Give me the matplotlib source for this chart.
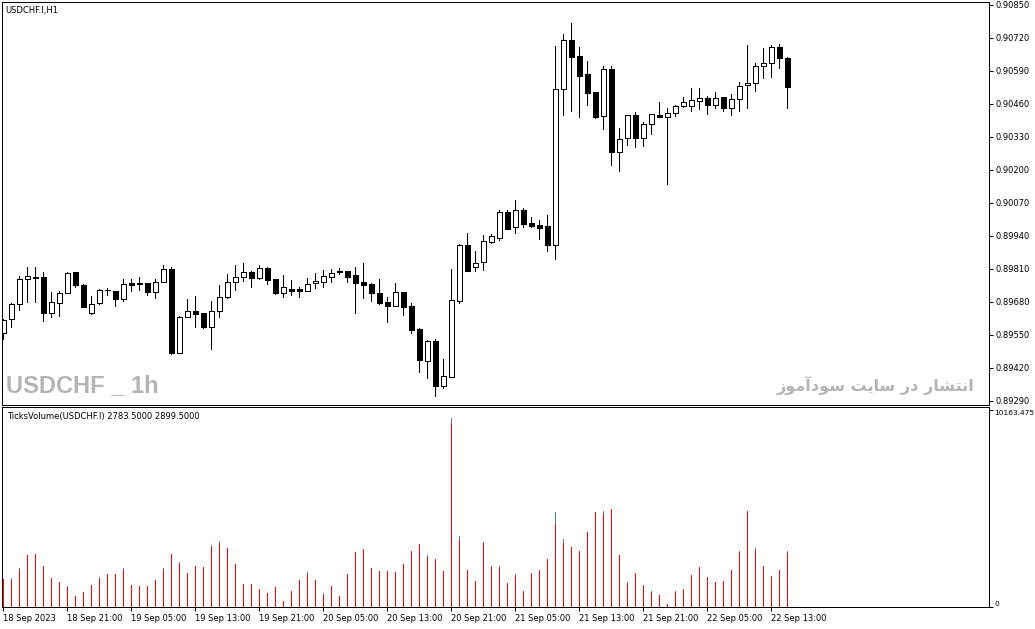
import numpy as np
import matplotlib
matplotlib.use("Agg")
import matplotlib.pyplot as plt
from matplotlib.font_manager import FontProperties, findfont

plt.rcParams['font.family'] = ['DejaVu Sans']

# USDCHF.I H1, 18 Sep 2023 13:00 .. 22 Sep 2023 15:00 (99 bars)
opens = [0.89557, 0.89612, 0.89672, 0.89769, 0.89776, 0.89777, 0.89638, 0.89677, 0.89717, 0.89798,
         0.89748, 0.89636, 0.89675, 0.89726, 0.89723, 0.89693, 0.89754, 0.89756, 0.89754, 0.89721,
         0.89760, 0.89809, 0.89480, 0.89622, 0.89645, 0.89636, 0.89580, 0.89645, 0.89699, 0.89760,
         0.89780, 0.89799, 0.89773, 0.89815, 0.89771, 0.89717, 0.89732, 0.89732, 0.89725, 0.89754,
         0.89760, 0.89780, 0.89801, 0.89802, 0.89786, 0.89759, 0.89751, 0.89714, 0.89680, 0.89665,
         0.89718, 0.89664, 0.89572, 0.89449, 0.89526, 0.89350, 0.89386, 0.89685, 0.89905, 0.89819,
         0.89836, 0.89918, 0.89933, 0.90036, 0.89974, 0.90042, 0.89992, 0.89983, 0.89979, 0.89903,
         0.90518, 0.90712, 0.90649, 0.90578, 0.90507, 0.90411, 0.90597, 0.90272, 0.90325, 0.90416,
         0.90325, 0.90380, 0.90417, 0.90408, 0.90426, 0.90453, 0.90451, 0.90473, 0.90483, 0.90457,
         0.90486, 0.90445, 0.90479, 0.90534, 0.90542, 0.90609, 0.90620, 0.90683, 0.90640]
highs = [0.89613, 0.89677, 0.89782, 0.89817, 0.89819, 0.89799, 0.89719, 0.89723, 0.89799, 0.89800,
         0.89751, 0.89704, 0.89730, 0.89734, 0.89724, 0.89769, 0.89769, 0.89777, 0.89755, 0.89769,
         0.89826, 0.89817, 0.89623, 0.89692, 0.89704, 0.89638, 0.89684, 0.89747, 0.89790, 0.89826,
         0.89832, 0.89802, 0.89826, 0.89817, 0.89772, 0.89786, 0.89767, 0.89738, 0.89773, 0.89795,
         0.89806, 0.89810, 0.89813, 0.89804, 0.89819, 0.89835, 0.89756, 0.89769, 0.89699, 0.89756,
         0.89720, 0.89675, 0.89576, 0.89530, 0.89534, 0.89457, 0.89810, 0.89908, 0.89952, 0.89881,
         0.89944, 0.89948, 0.90042, 0.90042, 0.90082, 0.90049, 0.90014, 0.90003, 0.90023, 0.90689,
         0.90736, 0.90778, 0.90683, 0.90629, 0.90509, 0.90609, 0.90609, 0.90367, 0.90417, 0.90429,
         0.90389, 0.90421, 0.90467, 0.90443, 0.90456, 0.90486, 0.90522, 0.90522, 0.90492, 0.90507,
         0.90488, 0.90499, 0.90547, 0.90692, 0.90620, 0.90681, 0.90691, 0.90695, 0.90644]
lows = [0.89533, 0.89583, 0.89649, 0.89681, 0.89681, 0.89606, 0.89622, 0.89626, 0.89714, 0.89740,
        0.89659, 0.89633, 0.89672, 0.89708, 0.89664, 0.89685, 0.89725, 0.89727, 0.89708, 0.89696,
        0.89758, 0.89475, 0.89478, 0.89620, 0.89580, 0.89579, 0.89494, 0.89622, 0.89695, 0.89727,
        0.89764, 0.89738, 0.89769, 0.89751, 0.89712, 0.89701, 0.89706, 0.89701, 0.89724, 0.89734,
        0.89738, 0.89760, 0.89790, 0.89760, 0.89638, 0.89697, 0.89685, 0.89672, 0.89602, 0.89664,
        0.89629, 0.89557, 0.89405, 0.89382, 0.89311, 0.89340, 0.89385, 0.89675, 0.89802, 0.89804,
        0.89806, 0.89914, 0.89924, 0.89967, 0.89953, 0.89974, 0.89974, 0.89929, 0.89882, 0.89848,
        0.90417, 0.90434, 0.90410, 0.90456, 0.90406, 0.90360, 0.90218, 0.90197, 0.90297, 0.90292,
        0.90296, 0.90341, 0.90409, 0.90145, 0.90413, 0.90449, 0.90432, 0.90440, 0.90421, 0.90445,
        0.90434, 0.90418, 0.90434, 0.90445, 0.90512, 0.90564, 0.90568, 0.90603, 0.90445]
closes = [0.89609, 0.89672, 0.89769, 0.89782, 0.89778, 0.89638, 0.89680, 0.89714, 0.89795, 0.89748,
          0.89662, 0.89672, 0.89727, 0.89728, 0.89693, 0.89751, 0.89746, 0.89750, 0.89721, 0.89760,
          0.89809, 0.89480, 0.89622, 0.89645, 0.89633, 0.89580, 0.89645, 0.89699, 0.89760, 0.89780,
          0.89799, 0.89773, 0.89813, 0.89767, 0.89714, 0.89738, 0.89725, 0.89725, 0.89751, 0.89763,
          0.89782, 0.89793, 0.89797, 0.89780, 0.89756, 0.89748, 0.89717, 0.89677, 0.89665, 0.89719,
          0.89662, 0.89570, 0.89452, 0.89526, 0.89350, 0.89389, 0.89688, 0.89905, 0.89803, 0.89832,
          0.89920, 0.89940, 0.90036, 0.89968, 0.90042, 0.89987, 0.89981, 0.89972, 0.89903, 0.90519,
          0.90712, 0.90646, 0.90572, 0.90505, 0.90409, 0.90597, 0.90272, 0.90321, 0.90416, 0.90325,
          0.90380, 0.90419, 0.90410, 0.90423, 0.90452, 0.90467, 0.90475, 0.90483, 0.90457, 0.90483,
          0.90445, 0.90479, 0.90530, 0.90542, 0.90609, 0.90620, 0.90683, 0.90642, 0.90526]

# tick volume, two buffers of the indicator (red drawn over blue)
vol_red = [1419, 1400, 1917, 2673, 2760, 2105, 1471, 1280, 1040, 557,
           764, 1125, 1452, 1692, 1692, 1917, 1125, 1073, 1073, 1383,
           1917, 2760, 2226, 1744, 2105, 2054, 3103, 3310, 3019, 2208,
           1161, 1161, 903, 733, 1022, 299, 800, 1383, 1710, 1383,
           627, 1058, 557, 1692, 2828, 2982, 2002, 1847, 1847, 1796,
           2208, 2864, 3241, 2603, 2451, 1832, 9417, 3447, 1899, 1331,
           3294, 2071, 2020, 1249, 1606, 803, 1776, 1913, 2477, 4270,
           3296, 3109, 2887, 3860, 4885, 4782, 5039, 2699, 1196, 1776,
           1076, 769, 632, 171, 752, 939, 1674, 2084, 1571, 1264,
           1366, 1913, 2835, 4953, 2955, 2135, 1571, 1913, 2783.5]
vol_blue = [1419, 1471, 1987, 2673, 2760, 2105, 1471, 1280, 1109, 557,
            764, 1125, 1522, 1692, 1692, 1987, 1125, 1073, 1073, 1383,
            1987, 2760, 2296, 1744, 2105, 2054, 3173, 3380, 3019, 2208,
            1161, 1161, 903, 733, 1022, 299, 800, 1383, 1780, 1383,
            697, 1058, 557, 1692, 2828, 2982, 2002, 1847, 1847, 1796,
            2208, 2864, 3241, 2673, 2451, 1832, 9727, 3653, 1899, 1331,
            3364, 2141, 2090, 1249, 1708, 803, 1776, 1913, 2477, 4885,
            3501, 3109, 2887, 3860, 4885, 4936, 5039, 2699, 1298, 1776,
            1144, 837, 632, 171, 803, 939, 1674, 2084, 1571, 1298,
            1366, 1913, 2887, 4953, 3040, 2135, 1606, 1913, 2899.5]

time_labels = ['18 Sep 2023', '18 Sep 21:00', '19 Sep 05:00', '19 Sep 13:00', '19 Sep 21:00',
               '20 Sep 05:00', '20 Sep 13:00', '20 Sep 21:00', '21 Sep 05:00', '21 Sep 13:00',
               '21 Sep 21:00', '22 Sep 05:00', '22 Sep 13:00']
price_ticks = [0.89290, 0.89420, 0.89550, 0.89680, 0.89810, 0.89940, 0.90070,
               0.90200, 0.90330, 0.90460, 0.90590, 0.90720, 0.90850]
vol_max = 10163.475

# matplotlib does no Arabic shaping: contextual forms, then reversed for RTL
fa_forms = ('\ufe8d\ufee7\ufe98\ufeb8\ufe8e\ufead \ufea9\ufead '
            '\ufeb3\ufe8e\ufef3\ufe96 \ufeb3\ufeee\ufea9\ufe81\ufee3\ufeee\ufeaf')
watermark_fa = fa_forms[::-1]

# narrow bold face for the symbol watermark, if one is around
wm_font = FontProperties(family='Liberation Sans', weight='bold', size=17)
for stretch, size in (('extra-condensed', 24), ('condensed', 20)):
    fp = FontProperties(family='Noto Sans', weight='bold', stretch=stretch, size=size)
    if 'condensed' in findfont(fp).lower():
        wm_font = fp
        break

W, H = 1035, 629
fig = plt.figure(figsize=(W / 100, H / 100), dpi=100)
px = 0.72  # one pixel in points

ax1 = fig.add_axes([2 / W, (H - 405) / H, 987 / W, 403 / H])
ax2 = fig.add_axes([2 / W, (H - 607) / H, 987 / W, 200 / H])

x = np.arange(len(opens))
o = np.array(opens); c = np.array(closes)
up = c >= o
fills = np.where(up, 'white', 'black')

ax1.vlines(x, lows, highs, colors='black', linewidth=px, zorder=1, antialiased=False)
ax1.bar(x, np.abs(c - o), bottom=np.minimum(o, c), width=0.6,
        color=fills, edgecolor='black', linewidth=px, zorder=2, antialiased=False)

xlim = (-0.16, 123.2)
ax1.set_xlim(xlim)
ax1.set_ylim(0.892742, 0.908618)
ax1.set_xticks([])
ax1.yaxis.tick_right()
ax1.set_yticks(price_ticks)
ax1.set_yticklabels([f'{p:.5f}' for p in price_ticks])
ax1.tick_params(axis='y', direction='out', length=3, width=px, pad=2, labelsize=6)

ax1.text(0.003, 0.980, 'USDCHF.I,H1', transform=ax1.transAxes, fontsize=6, va='center')
ax1.text(0.004, 0.032, 'USDCHF _ 1h', transform=ax1.transAxes, fontproperties=wm_font,
         color='#b4b4b4', va='baseline')
ax1.text(0.985, 0.034, watermark_fa, transform=ax1.transAxes, fontsize=11.5, fontweight='bold',
         color='#b4b4b4', ha='right', va='baseline')

ax2.vlines(x, 0, vol_blue, colors='#4a7cb8', linewidth=px, antialiased=False)
ax2.vlines(x, 0, vol_red, colors='#ff0000', linewidth=px, antialiased=False)
ax2.set_xlim(xlim)
ax2.set_ylim(0, vol_max * 200 / 197)
ax2.yaxis.tick_right()
ax2.set_yticks([0, vol_max])
ax2.set_yticklabels(['0', f'{vol_max:.3f}'])
ylabs = ax2.get_yticklabels()
ylabs[0].set_va('bottom')
ylabs[1].set_va('top')
ax2.tick_params(axis='y', direction='out', length=3, width=px, pad=1, labelsize=5.4)
ax2.set_xticks(np.arange(0, len(opens), 8))
ax2.set_xticklabels(time_labels, ha='left')
ax2.tick_params(axis='x', direction='out', length=3, width=px, pad=2, labelsize=6)
ax2.text(0.005, 0.955, f'TicksVolume(USDCHF.I) {vol_red[-1]:.4f} {vol_blue[-1]:.4f}',
         transform=ax2.transAxes, fontsize=6, va='center')

for ax in (ax1, ax2):
    for s in ax.spines.values():
        s.set_linewidth(px)

fig.savefig('out.png', dpi=100, facecolor='white')
